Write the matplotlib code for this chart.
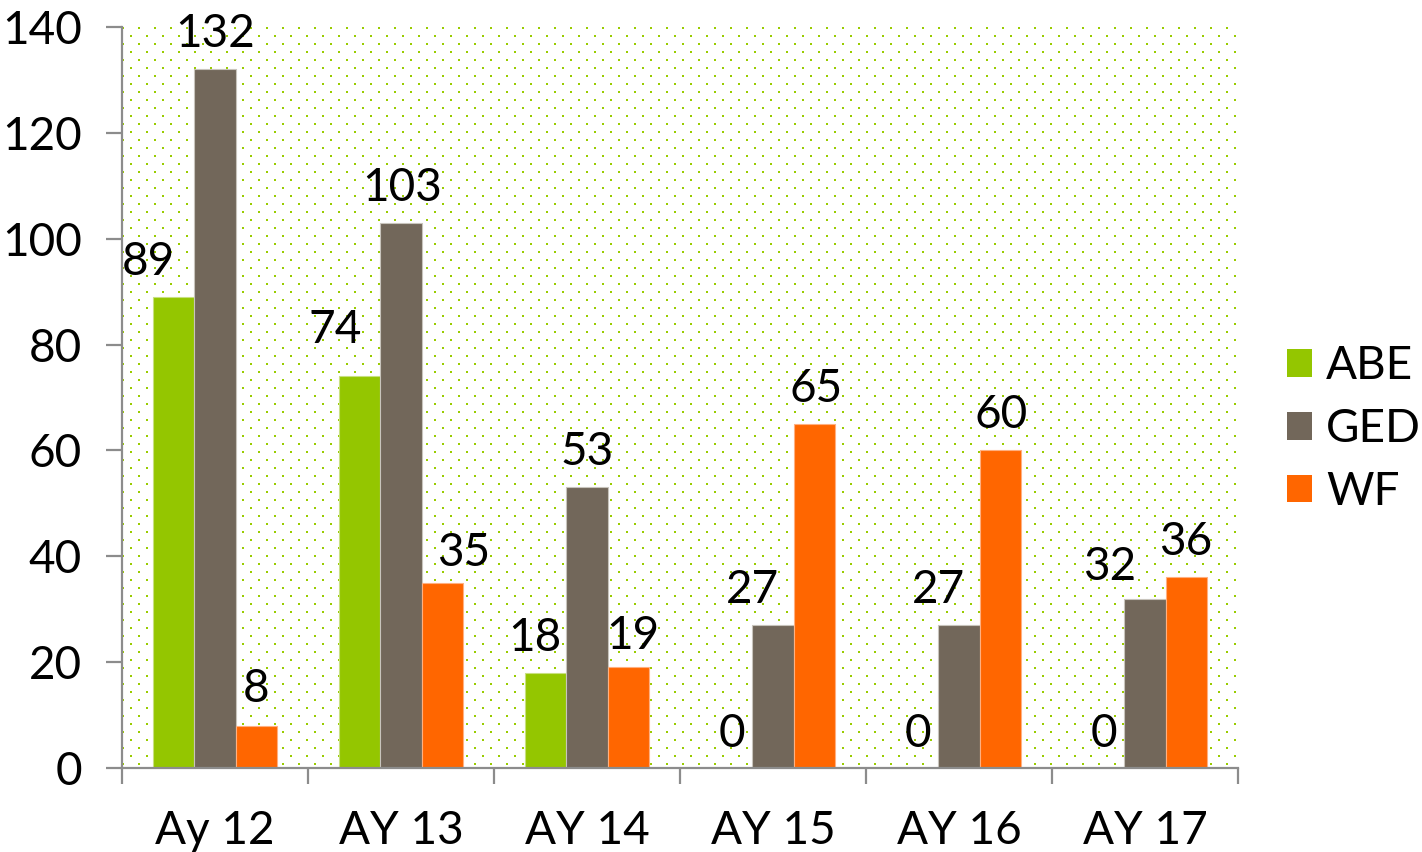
import numpy as np
import matplotlib
matplotlib.use("Agg")
import matplotlib.pyplot as plt
from matplotlib.patches import Patch

# ------------------------------------------------------------
# dados
# ------------------------------------------------------------
categories = ["Ay 12", "AY 13", "AY 14", "AY 15", "AY 16", "AY 17"]
abe = [89, 74, 18, 0, 0, 0]
ged = [132, 103, 53, 27, 27, 32]
wf = [8, 35, 19, 65, 60, 36]
series_names = ["ABE", "GED", "WF"]

colors = ["#94C600", "#72675A", "#FF6600"]
edge_colors = ["#C8E080", "#C8C4BC", "#FFB080"]
axis_gray = "#8C8C8C"

# ajustes manuais dos rótulos (px), como o PowerPoint faz
label_dx = [
    [-25, -24, -11, 0, 0, 0],
    [0, 1, 0, -20, -21, -35],
    [0, 21, 4, 2, 1, -1],
]
label_gap = [
    [22, 33, 22, 21, 21, 21],
    [22, 22, 22, 22, 22, 19],
    [24, 17, 18, 22, 22, 22],
]

plt.rcParams["font.family"] = ["Lato", "DejaVu Sans"]
FS = 33
PX = 0.72  # pontos por pixel (dpi 100)

W, H = 1422, 852
fig = plt.figure(figsize=(W / 100, H / 100), dpi=100)
ax_l, ax_r, ax_t, ax_b = 122, 1238, 27, 768
ax = fig.add_axes([ax_l / W, 1 - ax_b / H, (ax_r - ax_l) / W, (ax_b - ax_t) / H])

# fundo pontilhado
pw, ph = ax_r - ax_l, ax_b - ax_t
tex = np.ones((ph, pw, 4))
tex[..., 3] = 0
yy, xx = np.mgrid[0:ph, 0:pw]
m = ((xx % 16 < 2) & (yy % 16 < 2)) | (((xx + 8) % 16 < 2) & ((yy + 8) % 16 < 2))
tex[m] = matplotlib.colors.to_rgba("#99CC00")
x = np.arange(len(categories))
ax.set_xlim(-0.5, len(categories) - 0.5)
ax.set_ylim(0, 140)
ax.imshow(tex, extent=(-0.5, len(categories) - 0.5, 0, 140), aspect="auto",
          interpolation="nearest", zorder=0)

# barras
w = 1 / 4.5
for i, vals in enumerate([abe, ged, wf]):
    pos = x + (i - 1) * w
    ax.bar(pos, vals, width=w, color=colors[i], edgecolor=edge_colors[i],
           linewidth=0.8, zorder=2)
    for j, v in enumerate(vals):
        ax.annotate(str(v), (pos[j], v),
                    xytext=(label_dx[i][j] * PX, label_gap[i][j] * PX),
                    textcoords="offset points", ha="center", va="baseline",
                    fontsize=FS, zorder=3)

# eixos
for s in ["top", "right"]:
    ax.spines[s].set_visible(False)
for s in ["left", "bottom"]:
    ax.spines[s].set_color(axis_gray)
    ax.spines[s].set_linewidth(1.6)
    ax.spines[s].set_zorder(4)

ax.set_yticks(np.arange(0, 141, 20))
ax.tick_params(axis="y", length=16 * PX, width=1.6, color=axis_gray,
               pad=24 * PX, labelsize=FS)
ax.set_xticks(x)
ax.set_xticklabels(categories)
ax.set_xticks(np.arange(-0.5, len(categories)), minor=True)
ax.tick_params(axis="x", which="major", length=0, pad=42 * PX, labelsize=FS)
ax.tick_params(axis="x", which="minor", length=16 * PX, width=1.6, color=axis_gray)

# legenda
handles = [Patch(facecolor=c, edgecolor="none") for c in colors]
fig.legend(handles, series_names, loc="center left",
           bbox_to_anchor=(1287 / W, 1 - 429 / H), frameon=False,
           fontsize=FS, handlelength=0.55, handleheight=0.55,
           handletextpad=0.3, labelspacing=0.45, borderpad=0,
           borderaxespad=0)

fig.savefig("out.png", dpi=100)
